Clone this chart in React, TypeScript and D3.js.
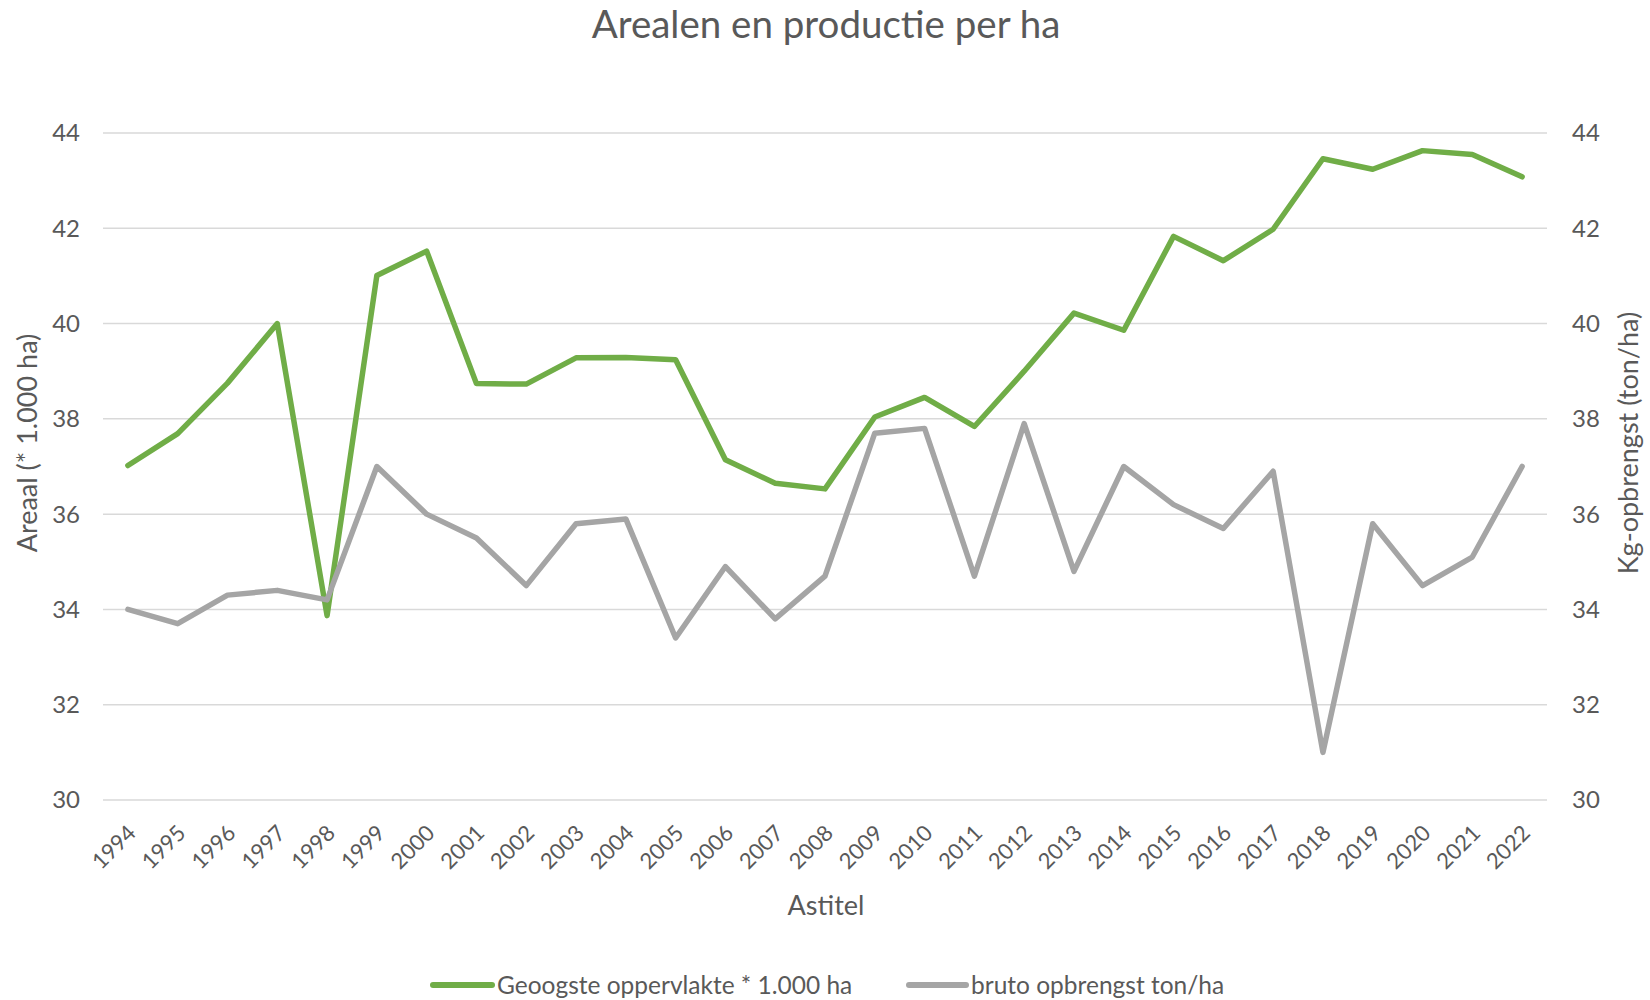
import React from 'react';
import * as d3 from 'd3';

const years = ['1994','1995','1996','1997','1998','1999','2000','2001','2002','2003','2004','2005','2006','2007','2008','2009','2010','2011','2012','2013','2014','2015','2016','2017','2018','2019','2020','2021','2022'];

// Geoogste oppervlakte * 1.000 ha (left axis)
const areaal = [37.02, 37.69, 38.75, 40.0, 33.87, 41.01, 41.52, 38.74, 38.73, 39.28, 39.29, 39.24, 37.14, 36.65, 36.53, 38.04, 38.45, 37.84, 39.0, 40.22, 39.86, 41.83, 41.32, 41.98, 43.46, 43.24, 43.63, 43.55, 43.08];

// bruto opbrengst ton/ha (right axis)
const opbrengst = [34.0, 33.7, 34.3, 34.4, 34.2, 37.0, 36.0, 35.5, 34.5, 35.8, 35.9, 33.4, 34.9, 33.8, 34.7, 37.7, 37.8, 34.7, 37.9, 34.8, 37.0, 36.2, 35.7, 36.9, 31.0, 35.8, 34.5, 35.1, 37.0];

const yTicks = [30, 32, 34, 36, 38, 40, 42, 44];

const title = 'Arealen en productie per ha';
const leftTitle = 'Areaal (* 1.000 ha)';
const rightTitle = 'Kg-opbrengst (ton/ha)';
const xTitle = 'Astitel';
const seriesNames = ['Geoogste oppervlakte * 1.000 ha', 'bruto opbrengst ton/ha'];

const W = 1650;
const H = 1000;
const plot = { left: 103, right: 1547, top: 133, bottom: 800 };
const font = 'Lato, Carlito, Calibri, sans-serif';
const textColor = '#595959';
const green = '#70AD47';
const gray = '#A5A5A5';

const App = () => {
  const x = d3.scaleBand<string>().domain(years).range([plot.left, plot.right]);
  const cx = (i: number) => (x(years[i]) as number) + x.bandwidth() / 2;
  const yLeft = d3.scaleLinear().domain([30, 44]).range([plot.bottom, plot.top]);
  const yRight = d3.scaleLinear().domain([30, 44]).range([plot.bottom, plot.top]);

  const lineLeft = d3.line<number>().x((_, i) => cx(i)).y(d => yLeft(d));
  const lineRight = d3.line<number>().x((_, i) => cx(i)).y(d => yRight(d));

  const titleY = 443;

  return (
    <svg width={W} height={H} style={{ position: 'absolute', left: 0, top: 0, background: '#fff' }} fontFamily={font}>
      <rect width={W} height={H} fill="#fff" />
      <text x={826} y={38} textAnchor="middle" fontSize={38.5} fill={textColor}>{title}</text>

      {yTicks.map(t => (
        <g key={t}>
          <line x1={plot.left} x2={plot.right} y1={yLeft(t)} y2={yLeft(t)} stroke="#D9D9D9" strokeWidth={1.5} />
          <text x={80} y={yLeft(t)} dy="0.35em" textAnchor="end" fontSize={24} fill={textColor}>{t}</text>
          <text x={1572} y={yRight(t)} dy="0.35em" textAnchor="start" fontSize={24} fill={textColor}>{t}</text>
        </g>
      ))}

      {years.map((yr, i) => (
        <text key={yr} transform={`translate(${cx(i) + 4},${plot.bottom + 29}) rotate(-45)`} textAnchor="end" dy="0.35em" fontSize={22} fill={textColor}>{yr}</text>
      ))}

      <path d={lineLeft(areaal) || ''} fill="none" stroke={green} strokeWidth={5.5} strokeLinejoin="round" strokeLinecap="round" />
      <path d={lineRight(opbrengst) || ''} fill="none" stroke={gray} strokeWidth={5.5} strokeLinejoin="round" strokeLinecap="round" />

      <text transform={`translate(28,${titleY}) rotate(-90)`} textAnchor="middle" dy="0.35em" fontSize={27} fill={textColor}>{leftTitle}</text>
      <text transform={`translate(1629,${titleY}) rotate(-90)`} textAnchor="middle" dy="0.35em" fontSize={27} fill={textColor}>{rightTitle}</text>
      <text x={826} y={906} dy="0.35em" textAnchor="middle" fontSize={27} fill={textColor}>{xTitle}</text>

      <g>
        <line x1={433} x2={492} y1={985} y2={985} stroke={green} strokeWidth={6} strokeLinecap="round" />
        <text x={497} y={985} dy="0.35em" fontSize={24.5} fill={textColor}>{seriesNames[0]}</text>
        <line x1={909} x2={966} y1={985} y2={985} stroke={gray} strokeWidth={6} strokeLinecap="round" />
        <text x={971} y={985} dy="0.35em" fontSize={24.5} fill={textColor}>{seriesNames[1]}</text>
      </g>
    </svg>
  );
};

export default App;
